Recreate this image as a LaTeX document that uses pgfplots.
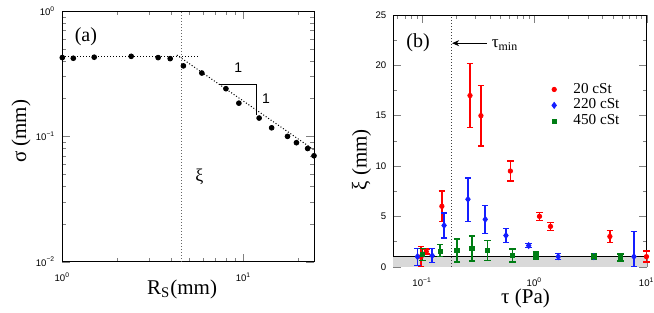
\documentclass[border=0pt]{standalone}
\usepackage{fontspec}
\setmainfont{Liberation Serif}
\setsansfont{Liberation Sans}
\usepackage{pgfplots}
\pgfplotsset{compat=1.18}
\usetikzlibrary{arrows.meta}
\definecolor{myred}{RGB}{255,0,0}
\definecolor{myblue}{RGB}{20,30,255}
\definecolor{mygreen}{RGB}{0,125,20}
\begin{document}
\begin{tikzpicture}
\pgfplotsset{
  common/.style={
    scale only axis,
    anchor=south west,
    tick align=inside,
    major tick length=4pt,
    minor tick length=2pt,
    tick label style={font=\sffamily\fontsize{4.8}{5}\selectfont},
    xticklabel style={yshift=-2pt},
    label style={font=\fontsize{10.5}{12}\selectfont},
    clip=false,
  },
  eb/.style={
    error bars/.cd, y dir=both, y explicit,
    error bar style={color=#1, line width=0.75pt},
    error mark options={rotate=90, mark size=1.6pt, color=#1, line width=0.7pt},
  },
}
% ---------------- left panel ----------------
\begin{axis}[common,
  at={(31.15pt,25.15pt)}, width=125.85pt, height=125.35pt,
  xmode=log, ymode=log,
  xmin=1, xmax=24.5, ymin=0.01, ymax=1,
  xtick={1,10}, xticklabels={10\textsuperscript{0},10\textsuperscript{1}},
  minor xtick={2,3,4,5,6,7,8,9,20},
  ytick={0.01,0.1,1}, yticklabels={10\textsuperscript{−2},10\textsuperscript{−1},10\textsuperscript{0}},
  minor ytick={0.02,0.03,0.04,0.05,0.06,0.07,0.08,0.09,0.2,0.3,0.4,0.5,0.6,0.7,0.8,0.9},
  xlabel={R\textsubscript{S}(mm)},
  ylabel={σ (mm)},
  xlabel style={at={(axis description cs:0.476,0)}, anchor=base, yshift=-16.3pt},
  ylabel style={at={(axis description cs:-0.164,0.52)}, anchor=center},
]
\addplot[densely dotted, black!60, line width=0.5pt] coordinates {(4.55,0.01) (4.55,1)};
\addplot[densely dotted, black, line width=0.5pt] coordinates {(1,0.43) (5.77,0.43)};
\addplot[densely dotted, black, line width=0.5pt] coordinates {(4.29,0.445) (24.5,0.078)};
\addplot[black, line width=0.5pt] coordinates {(7.28,0.26) (11.86,0.26) (11.86,0.148)};
\addplot[only marks, mark=*, mark size=1.2pt, black] coordinates {
(1.0,0.425) (1.15,0.42) (1.50,0.428) (2.40,0.435) (3.38,0.425) (3.94,0.417)
(4.66,0.365) (5.89,0.32) (8.0,0.24) (9.43,0.184) (12.2,0.14) (14.3,0.117)
(17.5,0.1) (19.6,0.089) (22.6,0.080) (24.5,0.070)};
\node[font=\sffamily\fontsize{7}{8}\selectfont] at (axis cs:9.35,0.35) {1};
\node[font=\sffamily\fontsize{7}{8}\selectfont] at (axis cs:13.3,0.2) {1};
\node[font=\fontsize{9}{10}\selectfont] at (axis cs:5.71,0.048) {ξ};
\node[font=\fontsize{10}{12}\selectfont] at (axis cs:1.35,0.62) {(a)};
\end{axis}
% ---------------- right panel ----------------
\begin{axis}[common,
  at={(196.65pt,22.65pt)}, width=126.7pt, height=125.85pt,
  xmode=log,
  xmin=0.0554, xmax=10, ymin=0, ymax=25,
  xtick={0.1,1,10}, xticklabels={10\textsuperscript{−1},10\textsuperscript{0},10\textsuperscript{1}},
  minor xtick={0.06,0.07,0.08,0.09,0.2,0.3,0.4,0.5,0.6,0.7,0.8,0.9,2,3,4,5,6,7,8,9},
  ytick={0,5,10,15,20,25}, yticklabels={0,5,10,15,20,25},
  minor ytick={2.5,7.5,12.5,17.5,22.5},
  xlabel={τ (Pa)},
  ylabel={ξ (mm)},
  xlabel style={at={(axis description cs:0.522,0)}, anchor=base, yshift=-18.3pt},
  ylabel style={at={(axis description cs:-0.125,0.425)}, anchor=center},
  legend style={at={(axis description cs:0.62,0.735)}, anchor=north west, draw=none, fill=none,
    font=\fontsize{7.6}{8}\selectfont, row sep=0.6pt, inner sep=0pt,
    nodes={inner sep=0.4pt}},
  legend image code/.code={\draw[#1] plot coordinates {(0pt,0pt)}; \path (-1.5pt,0pt) (9pt,0pt);},
  legend cell align=left,
]
\addplot[draw=none, fill=gray!30, forget plot] coordinates {(0.0554,0) (10,0) (10,1) (0.0554,1)} -- cycle;
\addplot[black, line width=0.7pt, forget plot] coordinates {(0.0554,1) (10,1)};
\addplot[densely dotted, black!75, line width=0.5pt, forget plot] coordinates {(0.183,0) (0.183,25)};
\draw[-{Stealth[length=3.5pt,width=3pt]}, line width=0.5pt] (axis cs:0.378,22.2) -- (axis cs:0.185,22.2);
\node[anchor=west, inner sep=0pt, font=\fontsize{8.5}{10}\selectfont] at (axis cs:0.415,22.0) {τ\textsubscript{min}};
\node[font=\fontsize{10}{12}\selectfont] at (axis cs:0.092,22.3) {(b)};
% red 20 cSt
\addplot[only marks, mark=*, mark size=1.1pt, color=myred, eb=myred]
coordinates {
(0.098,1.0) +- (0,1.0)
(0.109,1.5) +- (0,0.25)
(0.150,6.0) +- (0,1.5)
(0.267,17.0) +- (0,3.2)
(0.334,15.0) +- (0,3.0)
(0.611,9.5) +- (0,1.0)
(1.11,5.0) +- (0,0.4)
(1.39,4.0) +- (0,0.4)
(4.70,3.0) +- (0,0.6)
(9.95,1.0) +- (0,0.55)
};
\addlegendentry{20 cSt}
% blue 220 cSt
\addplot[only marks, mark=diamond*, mark size=1.5pt, color=myblue, eb=myblue]
coordinates {
(0.091,1.0) += (0,0.8) -= (0,0.9)
(0.123,1.1) +- (0,0.7)
(0.157,4.1) +- (0,1.25)
(0.256,6.7) += (0,2.1) -= (0,2.2)
(0.365,4.7) +- (0,1.4)
(0.558,3.1) +- (0,0.7)
(0.889,2.1) +- (0,0.2)
(1.63,1.0) +- (0,0.3)
(3.38,1.0) +- (0,0.25)
(7.7,1.0) += (0,2.5) -= (0,1.0)
};
\addlegendentry{220 cSt}
% green 450 cSt
\addplot[only marks, mark=square*, mark size=1.1pt, color=mygreen, eb=mygreen]
coordinates {
(0.101,1.2) +- (0,0.6)
(0.145,1.5) += (0,0.7) -= (0,0.5)
(0.204,1.6) +- (0,1.15)
(0.278,1.8) +- (0,1.25)
(0.383,1.6) +- (0,1.0)
(0.637,1.1) +- (0,0.65)
(1.027,1.1) +- (0,0.35)
(3.38,1.0) +- (0,0.3)
(5.86,0.9) +- (0,0.35)
};
\addlegendentry{450 cSt}
\end{axis}
\pgfresetboundingbox
\path (0,0) rectangle (327pt,156pt);
\end{tikzpicture}
\end{document}
